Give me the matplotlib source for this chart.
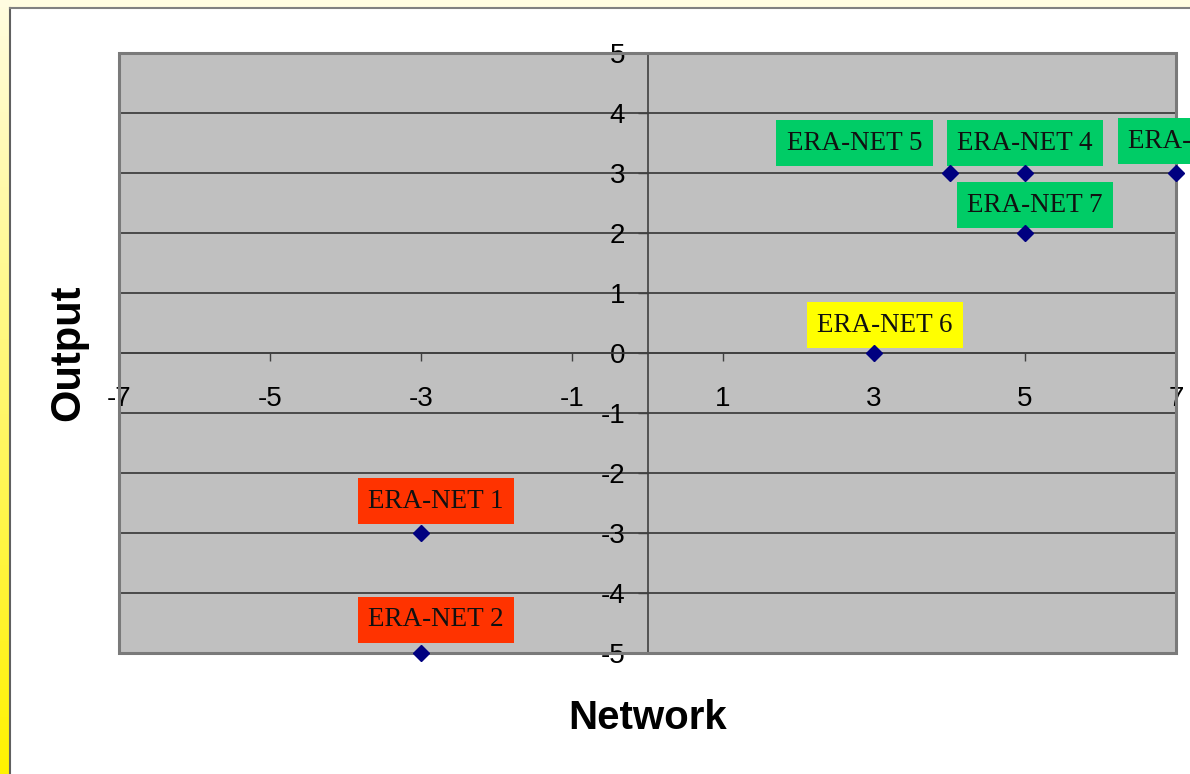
import numpy as np
import matplotlib
matplotlib.use("Agg")
import matplotlib.pyplot as plt
from matplotlib.patches import Rectangle

# ERA-NET positions
names = ['ERA-NET 1', 'ERA-NET 2', 'ERA-NET 3', 'ERA-NET 4',
         'ERA-NET 5', 'ERA-NET 6', 'ERA-NET 7']
network = [-3, -3, 7, 5, 4, 3, 5]
output = [-3, -5, 3, 3, 3, 0, 2]
status = ['red', 'red', 'green', 'green', 'green', 'yellow', 'green']

x_ticks = [-7, -5, -3, -1, 1, 3, 5, 7]
y_ticks = [-5, -4, -3, -2, -1, 0, 1, 2, 3, 4, 5]

box_colors = {'red': '#FF3300', 'green': '#00CC66', 'yellow': '#FFFF00'}
# label offsets in pixels (dx, dy) relative to the point
offsets = [(15, 32), (15, 33), (20, 32), (0, 30), (-95, 30), (11, 28), (10, 28)]

fig = plt.figure(figsize=(11.9, 7.74), dpi=100, facecolor='white')

# slide background: cream top strip, yellow gradient left strip
bg = fig.add_axes([0, 0, 1, 1], zorder=-10)
bg.set_xlim(0, 1190)
bg.set_ylim(774, 0)
bg.axis('off')
grad = np.linspace(0, 1, 256)[:, None]
top_c = np.array([1.0, 0.99, 0.88])
bot_c = np.array([1.0, 0.95, 0.0])
img = (top_c[None, None, :] * (1 - grad[..., None]) + bot_c[None, None, :] * grad[..., None])
bg.imshow(img, extent=[0, 9, 774, 0], aspect='auto')
bg.add_patch(Rectangle((0, 0), 1190, 7, color='#FFFCE0', lw=0))
bg.plot([9.5, 9.5], [7.5, 774], color='#606060', lw=1.5)
bg.plot([9.5, 1190], [7.5, 7.5], color='#808080', lw=1.5)

ax = fig.add_axes([119 / 1190, 1 - 653 / 774, (1176 - 119) / 1190, 600 / 774])
ax.set_facecolor('#C0C0C0')
ax.set_xlim(-7, 7)
ax.set_ylim(-5, 5)

for y in y_ticks:
    ax.axhline(y, color='#404040', lw=1.3, zorder=1)

ax.spines['left'].set_position(('data', 0))
ax.spines['bottom'].set_position(('data', 0))
ax.spines['right'].set_visible(False)
ax.spines['top'].set_visible(False)
for s in ('left', 'bottom'):
    ax.spines[s].set_color('#404040')
    ax.spines[s].set_linewidth(1.2)

ax.set_xticks(x_ticks)
ax.set_yticks(y_ticks)
ax.set_xticklabels([str(v) for v in x_ticks])
ax.set_yticklabels([str(v) for v in y_ticks])
ax.tick_params(axis='x', direction='out', length=6, width=1, color='#404040',
               pad=18, labelsize=20)
ax.tick_params(axis='y', direction='out', length=7, width=1, color='#404040',
               pad=9, labelsize=20)
for lab in ax.get_xticklabels() + ax.get_yticklabels():
    lab.set_fontfamily('Liberation Sans')

# plot frame
ax.add_patch(Rectangle((0, 0), 1, 1, transform=ax.transAxes, fill=False,
                       edgecolor='#7a7a7a', lw=2.2, clip_on=False, zorder=5))

ax.plot(network, output, linestyle='none', marker='D', markersize=8,
        color='#000080', zorder=8, clip_on=False)

for name, xv, yv, st, (dx, dy) in zip(names, network, output, status, offsets):
    ax.annotate(name, (xv, yv), xytext=(dx * 0.72, dy * 0.72),
                textcoords='offset points', ha='center', va='center',
                fontsize=19.5, family='Liberation Serif', color='#111111',
                bbox=dict(boxstyle='square,pad=0.38', fc=box_colors[st], ec='none'),
                annotation_clip=False, zorder=7)

fig.text(648 / 1190, 1 - 718 / 774, 'Network', ha='center', va='center',
         fontsize=29, fontweight='bold', family='Liberation Sans')
fig.text(68 / 1190, 1 - 353 / 774, 'Output', ha='center', va='center',
         rotation=90, fontsize=30, fontweight='bold', family='Liberation Sans')

fig.savefig('out.png', dpi=100, facecolor=fig.get_facecolor())
